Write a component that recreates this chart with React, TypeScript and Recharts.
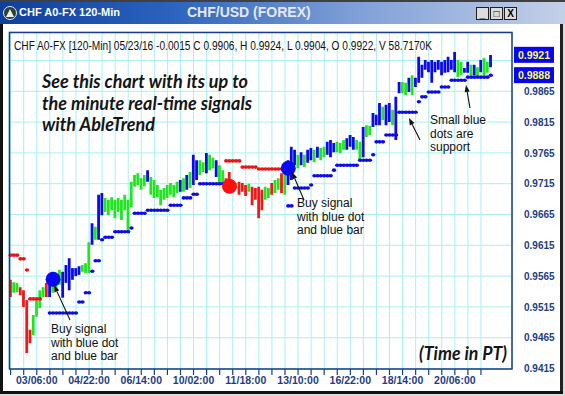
import React from 'react';
import { ComposedChart, Bar, Line, XAxis, YAxis, CartesianGrid, Cell, ReferenceLine } from 'recharts';

// ---- data (120-min bars, CHF A0-FX) ----
const highs = [
  0.9559, 0.9555, 0.9554, 0.9547, 0.9542, 0.9526, 0.9478, 0.9502, 0.9526, 0.9542,
  0.9547, 0.9554, 0.9562, 0.9572, 0.9568, 0.9575, 0.9572, 0.9583, 0.9594, 0.9578,
  0.9578, 0.9581, 0.9583, 0.9586, 0.9620, 0.9651, 0.9645, 0.9697, 0.9700, 0.9692,
  0.9689, 0.9693, 0.9689, 0.9692, 0.9689, 0.9697, 0.9689, 0.9718, 0.9729, 0.9732,
  0.9724, 0.9729, 0.9737, 0.9726, 0.9721, 0.9713, 0.9705, 0.9708, 0.9713, 0.9716,
  0.9713, 0.9718, 0.9721, 0.9724, 0.9729, 0.9734, 0.9762, 0.9753, 0.9753, 0.9750,
  0.9765, 0.9762, 0.9757, 0.9753, 0.9745, 0.9737, 0.9724, 0.9734, 0.9718, 0.9716,
  0.9718, 0.9716, 0.9713, 0.9715, 0.9710, 0.9708, 0.9710, 0.9705, 0.9710, 0.9708,
  0.9716, 0.9721, 0.9724, 0.9732, 0.9745, 0.9753, 0.9775, 0.9770, 0.9762, 0.9766,
  0.9762, 0.9770, 0.9773, 0.9770, 0.9775, 0.9773, 0.9775, 0.9783, 0.9786, 0.9781,
  0.9783, 0.9781, 0.9786, 0.9789, 0.9794, 0.9791, 0.9786, 0.9783, 0.9807, 0.9810,
  0.9809, 0.9830, 0.9827, 0.9846, 0.9840, 0.9843, 0.9846, 0.9835, 0.9856, 0.9880,
  0.9880, 0.9879, 0.9887, 0.9891, 0.9887, 0.9921, 0.9908, 0.9916, 0.9913, 0.9916,
  0.9913, 0.9916, 0.9913, 0.9916, 0.9921, 0.9916, 0.9929, 0.9916, 0.9913, 0.9903,
  0.9913, 0.9908, 0.9908, 0.9904, 0.9916, 0.9919, 0.9913, 0.9924,
];
const lows = [
  0.9531, 0.9538, 0.9539, 0.9534, 0.9515, 0.9440, 0.9456, 0.9469, 0.9499, 0.9513,
  0.9531, 0.9531, 0.9531, 0.9538, 0.9542, 0.9551, 0.9530, 0.9554, 0.9542, 0.9559,
  0.9565, 0.9567, 0.9572, 0.9570, 0.9570, 0.9616, 0.9624, 0.9624, 0.9664, 0.9669,
  0.9664, 0.9672, 0.9659, 0.9669, 0.9656, 0.9672, 0.9637, 0.9677, 0.9710, 0.9713,
  0.9705, 0.9711, 0.9718, 0.9697, 0.9692, 0.9693, 0.9680, 0.9689, 0.9692, 0.9697,
  0.9693, 0.9700, 0.9702, 0.9702, 0.9705, 0.9708, 0.9713, 0.9721, 0.9729, 0.9734,
  0.9732, 0.9737, 0.9740, 0.9726, 0.9713, 0.9716, 0.9705, 0.9700, 0.9705, 0.9708,
  0.9697, 0.9702, 0.9695, 0.9702, 0.9680, 0.9689, 0.9659, 0.9672, 0.9689, 0.9692,
  0.9697, 0.9700, 0.9705, 0.9700, 0.9697, 0.9713, 0.9721, 0.9745, 0.9740, 0.9745,
  0.9742, 0.9749, 0.9753, 0.9750, 0.9757, 0.9753, 0.9758, 0.9762, 0.9758, 0.9766,
  0.9766, 0.9765, 0.9770, 0.9770, 0.9775, 0.9770, 0.9770, 0.9753, 0.9758, 0.9791,
  0.9794, 0.9807, 0.9810, 0.9810, 0.9818, 0.9810, 0.9815, 0.9810, 0.9786, 0.9862,
  0.9862, 0.9859, 0.9864, 0.9859, 0.9872, 0.9879, 0.9887, 0.9900, 0.9896, 0.9879,
  0.9896, 0.9900, 0.9891, 0.9895, 0.9896, 0.9900, 0.9896, 0.9888, 0.9891, 0.9895,
  0.9895, 0.9891, 0.9891, 0.9887, 0.9896, 0.9891, 0.9895, 0.9904,
];
// r = red (down trend), g = green (neutral), b = blue (up trend)
const barColors = [
  'r', 'g', 'g', 'r', 'r', 'r', 'r', 'g', 'g', 'g',
  'g', 'r', 'b', 'g', 'g', 'g', 'b', 'b', 'b', 'b',
  'b', 'b', 'g', 'g', 'g', 'b', 'g', 'b', 'b', 'g',
  'g', 'g', 'g', 'g', 'g', 'g', 'g', 'g', 'g', 'g',
  'g', 'g', 'b', 'g', 'g', 'g', 'g', 'g', 'g', 'g',
  'g', 'g', 'b', 'g', 'b', 'g', 'b', 'b', 'g', 'g',
  'b', 'g', 'g', 'b', 'g', 'g', 'r', 'r', 'g', 'g',
  'r', 'r', 'r', 'g', 'r', 'r', 'r', 'r', 'g', 'g',
  'r', 'g', 'g', 'r', 'g', 'b', 'b', 'b', 'g', 'b',
  'g', 'b', 'b', 'g', 'b', 'g', 'g', 'b', 'b', 'b',
  'g', 'g', 'g', 'b', 'b', 'b', 'g', 'g', 'b', 'g',
  'g', 'b', 'b', 'b', 'g', 'b', 'b', 'g', 'b', 'b',
  'g', 'g', 'b', 'g', 'b', 'b', 'b', 'b', 'b', 'b',
  'b', 'b', 'b', 'b', 'b', 'b', 'b', 'g', 'g', 'b',
  'b', 'g', 'b', 'g', 'b', 'g', 'g', 'b',
];
const support = [
  null, null, null, null, null, null, null, null, null, null,
  null, null, 0.9505, 0.9505, 0.9505, 0.9505, 0.9505, 0.9505, 0.9505, 0.9505,
  0.9505, 0.9523, 0.9523, 0.9538, 0.9538, 0.9573, 0.9590, 0.9590, 0.9624, 0.9628,
  0.9628, 0.9628, 0.9637, 0.9637, 0.9637, 0.9637, 0.9637, 0.9643, 0.9667, 0.9667,
  0.9667, 0.9667, 0.9672, 0.9672, 0.9672, 0.9672, 0.9672, 0.9672, 0.9672, 0.9680,
  0.9680, 0.9680, 0.9680, 0.9692, 0.9692, 0.9692, 0.9698, 0.9698, 0.9715, 0.9715,
  0.9715, 0.9715, 0.9715, 0.9715, 0.9715, 0.9715, null, null, null, null,
  null, null, null, null, null, null, null, null, null, null,
  null, null, null, null, null, 0.9679, 0.9679, 0.9708, 0.9708, 0.9708,
  0.9708, 0.9708, 0.9713, 0.9728, 0.9728, 0.9728, 0.9728, 0.9728, 0.9728, 0.9737,
  0.9745, 0.9745, 0.9745, 0.9745, 0.9745, 0.9745, 0.9745, 0.9753, 0.9753, 0.9753,
  0.9753, 0.9762, 0.9783, 0.9783, 0.9783, 0.9794, 0.9794, 0.9794, 0.9794, 0.9831,
  0.9831, 0.9831, 0.9831, 0.9831, 0.9831, 0.9848, 0.9856, 0.9856, 0.9864, 0.9864,
  0.9864, 0.9864, 0.9872, 0.9872, 0.9872, 0.9883, 0.9883, 0.9883, 0.9883, 0.9883,
  0.9888, 0.9888, 0.9888, 0.9888, 0.9888, 0.9888, 0.9888, 0.9891,
];
const resistance = [
  0.9599, 0.9599, 0.9599, 0.9593, 0.9593, 0.9575, 0.9528, 0.9528, 0.9528, 0.9528,
  null, null, null, null, null, null, null, null, null, null,
  null, null, null, null, null, null, null, null, null, null,
  null, null, null, null, null, null, null, null, null, null,
  null, null, null, null, null, null, null, null, null, null,
  null, null, null, null, null, null, null, null, null, null,
  null, null, null, null, null, null, 0.9752, 0.9752, 0.9752, 0.9752,
  0.9752, 0.9742, 0.9742, 0.9742, 0.9742, 0.9742, 0.9739, 0.9739, 0.9739, 0.9739,
  0.9739, 0.9739, 0.9739, 0.9739, 0.9739,
];
const signalBars = [13, 67, 85];
const signalPrices = [0.9560, 0.9711, 0.9740];
const signalKinds = ['buy', 'sell', 'buy'];
const timeLabels = ['03/06:00', '04/22:00', '06/14:00', '10/02:00', '11/18:00', '13/10:00', '16/22:00', '18/14:00', '20/06:00'];
const timeLabelBars = [8, 24, 40, 56, 72, 88, 104, 120, 136];
const priceTicks = [0.9415, 0.9465, 0.9515, 0.9565, 0.9615, 0.9665, 0.9715, 0.9765, 0.9815, 0.9865, 0.9915];
const priceDomain = [0.94142, 0.99613];
const lastPrice = 0.9921;
const lastSupport = 0.9888;
const SLOTS = 154; // bar slots across the plot (the last ones stay empty)
const LAST_TICK_BAR = 144;

const colorMap: Record<string, string> = { r: '#f01818', g: '#1fe61f', b: '#0a0aee' };
const AXIS_BLUE = '#1c3d86';
const FONT = '"Liberation Sans", Arial, sans-serif';

const data = Array.from({ length: SLOTS }, (_, i) => {
  const k = signalBars.indexOf(i);
  return {
    i,
    range: i < highs.length ? [lows[i], highs[i]] : null,
    color: barColors[i] ?? 'g',
    support: support[i] ?? null,
    resistance: resistance[i] ?? null,
    signal: k >= 0 ? signalPrices[k] : null,
    kind: k >= 0 ? signalKinds[k] : null,
  };
});
const tickBars = data.filter((d) => d.i % 4 === 0 && d.i <= LAST_TICK_BAR).map((d) => d.i);

const smallDot = (color: string) => (p: any) => {
  if (p.value == null || p.cy == null || isNaN(p.cy)) return <g key={`e${p.index}`} />;
  return <ellipse key={`d${p.index}`} cx={p.cx} cy={p.cy} rx={2.2} ry={1.8} fill={color} />;
};
const bigDot = (p: any) => {
  if (p.value == null || p.cy == null || isNaN(p.cy)) return <g key={`e${p.index}`} />;
  const c = p.payload.kind === 'sell' ? '#ff1010' : '#0808f0';
  return <circle key={`s${p.index}`} cx={p.cx} cy={p.cy} r={7.5} fill={c} />;
};

const XTick = (p: any) => {
  const idx = timeLabelBars.indexOf(p.payload.value);
  if (idx < 0) return <g />;
  return (
    <text x={p.x} y={p.y} dy="0.71em" textAnchor="middle" fill={AXIS_BLUE}
      fontFamily={FONT} fontWeight="bold" fontSize={10.5}>{timeLabels[idx]}</text>
  );
};
const YTick = (p: any) => {
  const v = p.payload.value;
  if (v > 0.99) return <g />;
  return (
    <text x={p.x} y={p.y} dy="0.36em" textAnchor="start" fill={AXIS_BLUE}
      fontFamily={FONT} fontWeight="bold" fontSize={10}>{v.toFixed(4)}</text>
  );
};
const BoxLabel = (props: any) => {
  const vb = props.viewBox || {};
  const x = vb.x + vb.width + 2;
  const cy = vb.y - 2;
  return (
    <g>
      <rect x={x} y={cy - 8} width={40} height={16} fill="#0606f2" />
      <text x={x + 20} y={cy} dy="0.36em" textAnchor="middle" fill="#ffff40"
        fontFamily={FONT} fontWeight="bold" fontSize={10.5}>{props.text}</text>
    </g>
  );
};

const Arrow = ({ x1, y1, x2, y2 }: { x1: number; y1: number; x2: number; y2: number }) => {
  const a = Math.atan2(y2 - y1, x2 - x1);
  const L = 7, W = 2.6;
  const bx = x2 - L * Math.cos(a), by = y2 - L * Math.sin(a);
  const pts = `${x2},${y2} ${bx - W * Math.sin(a)},${by + W * Math.cos(a)} ${bx + W * Math.sin(a)},${by - W * Math.cos(a)}`;
  return (
    <g>
      <line x1={x1} y1={y1} x2={bx} y2={by} stroke="#111" strokeWidth={1.1} />
      <polygon points={pts} fill="#111" />
    </g>
  );
};

const Note = ({ x, y, lines }: { x: number; y: number; lines: string[] }) => (
  <text x={x} y={y} fontFamily={FONT} fontSize={12} fill="#111">
    {lines.map((l, k) => (
      <tspan key={k} x={x} dy={k === 0 ? 0 : 13.5}>{l}</tspan>
    ))}
  </text>
);

export default function App() {
  return (
    <div style={{ position: 'absolute', left: 0, top: 0, width: 565, height: 396, background: '#ffffff', overflow: 'hidden' }}>
      <div style={{ position: 'absolute', left: 0, top: 0 }}>
        <ComposedChart width={565} height={396} data={data} margin={{ top: 32, right: 0, bottom: 0, left: 9 }}>
          <CartesianGrid stroke="#aaf0f3" strokeWidth={1} fill="#ffffff" />
          <XAxis dataKey="i" type="category" ticks={tickBars} interval={0} height={27}
            axisLine={false} tickLine={{ stroke: AXIS_BLUE, strokeWidth: 1.2 }} tickSize={6} tickMargin={2}
            tick={<XTick />} />
          <YAxis orientation="right" type="number" domain={priceDomain} allowDataOverflow ticks={priceTicks}
            width={53} axisLine={false} tickLine={false} tickSize={0} tickMargin={12} tick={<YTick />} />
          <Bar dataKey="range" barSize={2.8} isAnimationActive={false}>
            {data.map((d) => (
              <Cell key={d.i} fill={colorMap[d.color]} />
            ))}
          </Bar>
          <Line dataKey="support" stroke="none" isAnimationActive={false} dot={smallDot('#0c0ce6')} activeDot={false} />
          <Line dataKey="resistance" stroke="none" isAnimationActive={false} dot={smallDot('#ee1414')} activeDot={false} />
          <Line dataKey="signal" stroke="none" isAnimationActive={false} dot={bigDot} activeDot={false} />
          <ReferenceLine y={lastPrice} stroke="none" label={<BoxLabel text={lastPrice.toFixed(4)} />} />
          <ReferenceLine y={lastSupport} stroke="none" label={<BoxLabel text={lastSupport.toFixed(4)} />} />
        </ComposedChart>
      </div>

      <svg width={565} height={396} style={{ position: 'absolute', left: 0, top: 0, pointerEvents: 'none' }}>
        <rect x={9.5} y={32.5} width={502.5} height={336.5} fill="none" stroke={AXIS_BLUE} strokeWidth={1.5} />
        <text x={14} y={50} fontFamily={FONT} fontSize={12} fill="#111" textLength={418} lengthAdjust="spacingAndGlyphs">
          CHF A0-FX [120-Min] 05/23/16  -0.0015 C 0.9906, H 0.9924, L 0.9904, O 0.9922, V 58.7170K
        </text>
        <g fontFamily="Lato, 'Open Sans', sans-serif" fontWeight="bold" fontStyle="italic" fontSize={18} fill="#151515">
          <text x={42} y={88} textLength={206} lengthAdjust="spacingAndGlyphs">See this chart with its up to</text>
          <text x={42} y={109.5} textLength={210} lengthAdjust="spacingAndGlyphs">the minute real-time signals</text>
          <text x={42} y={131} textLength={113} lengthAdjust="spacingAndGlyphs">with AbleTrend</text>
          <text x={419} y={360} textLength={88} lengthAdjust="spacingAndGlyphs">(Time in PT)</text>
        </g>
        <Note x={51} y={333} lines={['Buy signal', 'with blue dot', 'and blue bar']} />
        <Note x={297} y={207} lines={['Buy signal', 'with blue dot', 'and blue bar']} />
        <Note x={430} y={124} lines={['Small blue', 'dots are', 'support']} />
        <Arrow x1={70} y1={320} x2={54} y2={285} />
        <Arrow x1={304} y1={200} x2={292} y2={172} />
        <Arrow x1={470} y1={108} x2={466} y2={85} />
        <Arrow x1={420} y1={140} x2={409} y2={118} />
      </svg>

      {/* window frame */}
      <div style={{ position: 'absolute', left: 0, top: 22, width: 3, height: 372, background: '#111' }} />
      <div style={{ position: 'absolute', left: 560, top: 22, width: 3, height: 372, background: '#222' }} />
      <div style={{ position: 'absolute', left: 563, top: 22, width: 2, height: 374, background: '#dcdcdc' }} />
      <div style={{ position: 'absolute', left: 0, top: 391, width: 563, height: 3, background: '#111' }} />
      <div style={{ position: 'absolute', left: 0, top: 394, width: 565, height: 2, background: '#dcdcdc' }} />

      {/* title bar */}
      <div style={{
        position: 'absolute', left: 0, top: 0, width: 565, height: 24,
        background: 'linear-gradient(to right, #0e3f9e 0%, #2a63bd 30%, #7d9ed6 62%, #c4d0e8 100%)',
        borderTop: '2px solid #404040', boxSizing: 'border-box',
      }}>
        <div style={{ position: 'absolute', left: 3, top: 4, width: 14, height: 14, borderRadius: 7, background: '#2d3f37', border: '1px solid #e8e8e8', boxSizing: 'border-box' }}>
          <div style={{ position: 'absolute', left: 2, top: 2, width: 0, height: 0, borderLeft: '4px solid transparent', borderRight: '4px solid transparent', borderBottom: '8px solid #e8f4e8' }} />
        </div>
        <div style={{ position: 'absolute', left: 19, top: 4, color: '#ffffff', fontFamily: FONT, fontWeight: 'bold', fontSize: 11, whiteSpace: 'nowrap' }}>CHF A0-FX 120-Min</div>
        <div style={{ position: 'absolute', left: 187, top: 2, color: '#e6e8f0', fontFamily: FONT, fontWeight: 'bold', fontSize: 14, whiteSpace: 'nowrap' }}>CHF/USD (FOREX)</div>
        {['_', '□', 'X'].map((s, k) => (
          <div key={k} style={{
            position: 'absolute', left: 476 + k * 14, top: 5, width: 13, height: 13, background: '#dcdcdc',
            border: '1px solid #202020', boxSizing: 'border-box', color: '#000', fontFamily: FONT, fontWeight: 'bold',
            fontSize: 10, lineHeight: '11px', textAlign: 'center',
          }}>{s}</div>
        ))}
      </div>
    </div>
  );
}
